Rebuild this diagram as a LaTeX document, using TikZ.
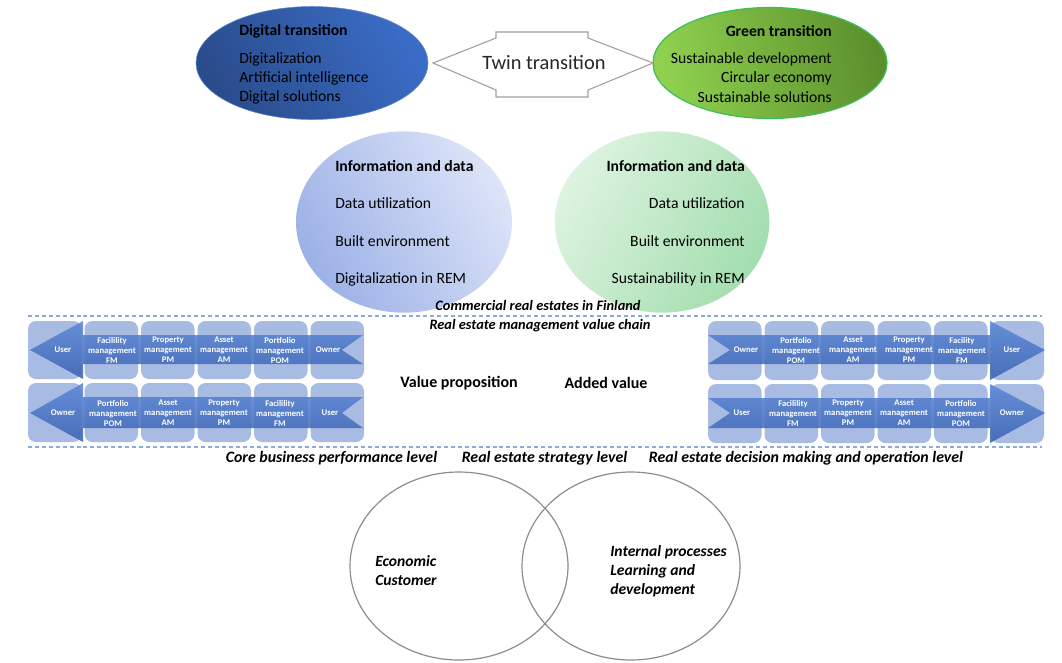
\documentclass[tikz,border=0pt]{standalone}
\usepackage{fontspec}
\setmainfont{Carlito}
\usetikzlibrary{shapes.geometric}
\definecolor{digA}{HTML}{2A4C8C}
\definecolor{digB}{HTML}{3A6CC6}
\definecolor{grnA}{HTML}{8FD14F}
\definecolor{grnB}{HTML}{5B8F2C}
\definecolor{grnLine}{HTML}{3DBE5A}
\definecolor{infA}{HTML}{9CB1E6}
\definecolor{infB}{HTML}{DDE4F8}
\definecolor{ingA}{HTML}{A3DEAF}
\definecolor{ingB}{HTML}{DDF3E0}
\definecolor{dashc}{HTML}{8EA9DB}
\definecolor{boxc}{HTML}{A8BBE3}
\definecolor{arrA}{HTML}{5D88D6}
\definecolor{arrB}{HTML}{3B63B2}
\definecolor{twinc}{HTML}{A0A0A0}
\definecolor{vennc}{HTML}{8C8C8C}
\begin{document}
\begin{tikzpicture}[x=0.75pt,y=-0.75pt,
  txt/.style={inner sep=0pt,font=\fontsize{11.75}{14}\selectfont},
  btxt/.style={txt,font=\fontsize{11.75}{14}\selectfont\bfseries},
  ital/.style={inner sep=0pt,font=\fontsize{11.9}{14}\selectfont\bfseries\itshape},
  vlab/.style={inner sep=0pt,text=white,align=center,font=\fontsize{6.5}{7.5}\selectfont\bfseries},
  varrow/.style={fill opacity=0.88,top color=arrA,bottom color=arrB},
  dline/.style={draw=dashc,line width=1.2pt,dash pattern=on 3pt off 2.2pt},
  venn/.style={draw=vennc,line width=0.9pt,ellipse,inner sep=0pt,minimum width=163.5pt,minimum height=141pt}
]
\useasboundingbox (0,0) rectangle (1062,662);

% ---------- top row ----------
\node[ellipse,inner sep=0pt,minimum width=174pt,minimum height=84.75pt,
      left color=digA,right color=digB,shading angle=120,draw=digB!80!white,line width=0.4pt] (dig) at (312,63) {};
\node[btxt,anchor=west] (digt) at (239,31) {Digital transition};
\node[txt,anchor=west] (dig1) at (239,59) {Digitalization};
\node[txt,anchor=west] (dig2) at (239,78) {Artificial intelligence};
\node[txt,anchor=west] (dig3) at (239,97) {Digital solutions};

\node[ellipse,inner sep=0pt,minimum width=175.5pt,minimum height=83.25pt,
      left color=grnA,right color=grnB,shading angle=100,draw=grnLine,line width=0.9pt] (grn) at (770,63) {};
\node[btxt,anchor=east] (grnt) at (832,31) {Green transition};
\node[txt,anchor=east] (grn1) at (832,59) {Sustainable development};
\node[txt,anchor=east] (grn2) at (832,78) {Circular economy};
\node[txt,anchor=east] (grn3) at (832,97) {Sustainable solutions};

\draw[twinc,line width=0.8pt,fill=white] (433,63) -- (496,38) -- (496,32) -- (588,32) -- (588,38) -- (653,63)
   -- (588,90) -- (588,97) -- (496,97) -- (496,90) -- cycle;
\node[inner sep=0pt,font=\fontsize{15.3}{17}\selectfont,text=black!85] (twin) at (544,63) {Twin transition};

% ---------- information circles ----------
\node[ellipse,inner sep=0pt,minimum width=162pt,minimum height=136pt,
      left color=infA,right color=infB,shading angle=120] (infl) at (404,222) {};
\node[btxt,anchor=west] (il0) at (335,166) {Information and data};
\node[txt,anchor=west] (il1) at (335,203) {Data utilization};
\node[txt,anchor=west] (il2) at (335,241) {Built environment};
\node[txt,anchor=west] (il3) at (335,279) {Digitalization in REM};

\node[ellipse,inner sep=0pt,minimum width=161pt,minimum height=136pt,
      left color=ingB,right color=ingA,shading angle=60] (infr) at (662,222) {};
\node[btxt,anchor=east] (ir0) at (745,166) {Information and data};
\node[txt,anchor=east] (ir1) at (745,203) {Data utilization};
\node[txt,anchor=east] (ir2) at (745,241) {Built environment};
\node[txt,anchor=east] (ir3) at (745,279) {Sustainability in REM};

\node[ital,font=\fontsize{10.8}{12}\selectfont\bfseries\itshape] (cre) at (538,305) {Commercial real estates in Finland};

% ---------- dashed lines ----------
\coordinate (d1a) at (28,316); \coordinate (d1b) at (1042,316);
\coordinate (d2a) at (28,447); \coordinate (d2b) at (1042,447);
\draw[dline] (d1a) -- (d1b);
\draw[dline] (d2a) -- (d2b);
\node[ital,font=\fontsize{10.8}{12}\selectfont\bfseries\itshape] (remvc) at (540,326) {Real estate management value chain};

% ---------- left value chain boxes ----------
\foreach \x in {28,84.5,141,197.5,254,310.5}{
  \path[fill=boxc] [rounded corners=6pt] (\x,321) rectangle ++(53.5,58);
  \path[fill=boxc] [rounded corners=6pt] (\x,383) rectangle ++(53.5,59);
}
\path[varrow] (30,350) -- (83,321) -- (83,335) -- (363,335) -- (342,350) -- (363,364) -- (83,364) -- (83,379) -- cycle;
\path[varrow] (30,413) -- (83,383) -- (83,397) -- (363,397) -- (342,413) -- (363,428) -- (83,428) -- (83,442) -- cycle;

\node[vlab] (l11) at (63,350) {User};
\node[vlab] (l12) at (112,350) {Facilility\\management\\FM};
\node[vlab] (l13) at (168,350) {Property\\management\\PM};
\node[vlab] (l14) at (224,350) {Asset\\management\\AM};
\node[vlab] (l15) at (280,350) {Portfolio\\management\\POM};
\node[vlab] (l16) at (328,350) {Owner};
\node[vlab] (l21) at (63,413) {Owner};
\node[vlab] (l22) at (113,413) {Portfolio\\management\\POM};
\node[vlab] (l23) at (168,413) {Asset\\management\\AM};
\node[vlab] (l24) at (224,413) {Property\\management\\PM};
\node[vlab] (l25) at (280,413) {Facilility\\management\\FM};
\node[vlab] (l26) at (330,413) {User};

% ---------- right value chain boxes ----------
\foreach \x in {708,764.5,821,877.5,934,990.5}{
  \path[fill=boxc] [rounded corners=6pt] (\x,321) rectangle ++(53.5,59);
  \path[fill=boxc] [rounded corners=6pt] (\x,384) rectangle ++(53.5,59);
}
\path[varrow] (708,335) -- (990,335) -- (990,321) -- (1045,350) -- (990,380) -- (990,364) -- (708,364) -- (730,350) -- cycle;
\path[varrow] (708,398) -- (990,398) -- (990,384) -- (1045,413) -- (990,443) -- (990,428) -- (708,428) -- (730,413) -- cycle;

\node[vlab] (r11) at (746,350) {Owner};
\node[vlab] (r12) at (796,350) {Portfolio\\management\\POM};
\node[vlab] (r13) at (853,350) {Asset\\management\\AM};
\node[vlab] (r14) at (909,350) {Property\\management\\PM};
\node[vlab] (r15) at (962,350) {Facility\\management\\FM};
\node[vlab] (r16) at (1012,350) {User};
\node[vlab] (r21) at (742,413) {User};
\node[vlab] (r22) at (793,413) {Facilility\\management\\FM};
\node[vlab] (r23) at (848,413) {Property\\management\\PM};
\node[vlab] (r24) at (904,413) {Asset\\management\\AM};
\node[vlab] (r25) at (961,413) {Portfolio\\management\\POM};
\node[vlab] (r26) at (1012,413) {Owner};

% ---------- middle labels ----------
\node[btxt,font=\fontsize{12}{14}\selectfont\bfseries] (vp) at (459,383) {Value proposition};
\node[btxt,font=\fontsize{12}{14}\selectfont\bfseries] (av) at (606,383) {Added value};

% ---------- level labels ----------
\node[ital] (lv1) at (331.5,458) {Core business performance level};
\node[ital] (lv2) at (544.5,458) {Real estate strategy level};
\node[ital] (lv3) at (806,458) {Real estate decision making and operation level};

% ---------- venn ----------
\node[venn] (vl) at (459,566) {};
\node[venn] (vr) at (631,566) {};
\node[ital,anchor=west,align=left,font=\fontsize{11.7}{14.25}\selectfont\bfseries\itshape] (vlt) at (375,570.5) {Economic\\Customer};
\node[ital,anchor=west,align=left,font=\fontsize{11.7}{14.25}\selectfont\bfseries\itshape] (vrt) at (610,571) {Internal processes\\Learning and\\development};
\end{tikzpicture}
\end{document}
